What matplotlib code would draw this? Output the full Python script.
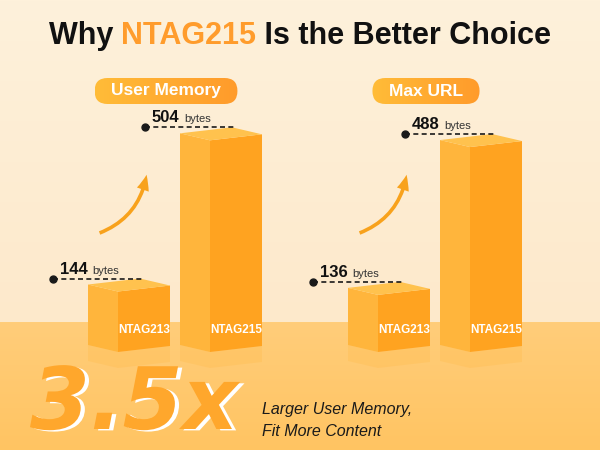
import numpy as np
import matplotlib
matplotlib.use("Agg")
import matplotlib.pyplot as plt
import matplotlib.patheffects as pe
from matplotlib.patches import Polygon, FancyBboxPatch, FancyArrowPatch
from matplotlib.colors import to_rgb

plt.rcParams['font.family'] = ['Liberation Sans', 'DejaVu Sans']

# data
metrics = ["User Memory", "Max URL"]
chips = ["NTAG213", "NTAG215"]
user_memory = [144, 504]
max_url = [136, 488]
unit = "bytes"
title_parts = ["Why ", "NTAG215", " Is the Better Choice"]
ratio_text = "3.5x"
caption = ["Larger User Memory,", "Fit More Content"]

W, H = 600, 450
HORIZON = 322       # floor line (px from top)
GROUND = 352        # bottom of the box front edge (px from top)
PX_PER_BYTE = 0.42
YMAX = 620
STEP = 92           # px between the two boxes of a group
GROUP_X = [129, 389]  # px centre of the first box in each group

ORANGE = '#FF9C2C'
LEFT_FACE = '#FFB53C'
RIGHT_FACE = '#FFA320'
TOP_FACE = '#FFC24E'

fig = plt.figure(figsize=(6, 4.5), dpi=100)
ax0 = fig.add_axes([0, 0, 1, 1])
ax0.set_xlim(0, W)
ax0.set_ylim(H, 0)
ax0.axis('off')

# background: cream wall + orange floor
yy = np.arange(H)
wall_top, wall_bot = np.array(to_rgb('#FEF1DB')), np.array(to_rgb('#FDE9CB'))
floor_top, floor_bot = np.array(to_rgb('#FFCD7A')), np.array(to_rgb('#FFC462'))
t1 = np.clip(yy / HORIZON, 0, 1)[:, None]
t2 = np.clip((yy - HORIZON) / (H - HORIZON), 0, 1)[:, None]
col = np.where((yy < HORIZON)[:, None], wall_top + (wall_bot - wall_top) * t1,
               floor_top + (floor_bot - floor_top) * t2)
img = np.repeat(col[:, None, :], W, axis=1)
ax0.imshow(img, extent=(0, W, H, 0), aspect='auto', zorder=0)

renderer = fig.canvas.get_renderer()

# title in three colours
pieces = []
for txt, c in zip(title_parts, ['#111111', ORANGE, '#111111']):
    pieces.append(ax0.text(0, 44, txt, fontsize=22, fontweight='bold', color=c,
                           va='baseline', ha='left', zorder=5))
widths = [p.get_window_extent(renderer).width for p in pieces]
x = W / 2 - sum(widths) / 2
for p, w in zip(pieces, widths):
    p.set_x(x)
    x += w


def draw_box(ax, xc, v, label):
    u = 1 / PX_PER_BYTE
    xl = xc - 41 / STEP
    xe = xc - 11 / STEP
    xr = xc + 41 / STEP
    xb = xl + xr - xe
    # faint floor reflection
    ax.add_patch(Polygon([(xl, 7 * u), (xe, 0), (xr, 6 * u), (xr, -10 * u), (xe, -16 * u), (xl, -9 * u)],
                         closed=True, color='#FFB02E', alpha=0.18, lw=0, zorder=2, clip_on=False))
    ax.add_patch(Polygon([(xl, 7 * u), (xe, 0), (xe, v), (xl, v + 7 * u)],
                         closed=True, color=LEFT_FACE, lw=0, zorder=3, clip_on=False))
    ax.add_patch(Polygon([(xe, 0), (xr, 6 * u), (xr, v + 6 * u), (xe, v)],
                         closed=True, color=RIGHT_FACE, lw=0, zorder=3, clip_on=False))
    ax.add_patch(Polygon([(xe, v), (xl, v + 7 * u), (xb, v + 13 * u), (xr, v + 6 * u)],
                         closed=True, color=TOP_FACE, lw=0, zorder=3, clip_on=False))
    # name on the box
    ax.annotate(label, ((xe + xr) / 2, 3 * u), xytext=(0, 19), textcoords='offset pixels',
                ha='center', va='center', color='white', fontsize=8.5, fontweight='bold',
                zorder=4, annotation_clip=False)
    # value marker with dashed leader
    yl = v + 13 * u
    xd = xl - 35 / STEP
    ax.plot([xd, xb + 3 / STEP], [yl, yl], ls=(0, (3, 2)), color='#1A1A1A', lw=1.2,
            zorder=4, clip_on=False)
    ax.plot([xd], [yl], 'o', color='#1A1A1A', ms=5, zorder=4, clip_on=False)
    num = ax.annotate(str(v), (xd, yl), xytext=(7, 5), textcoords='offset pixels',
                      ha='left', va='baseline', fontsize=12, fontweight='bold',
                      color='#111111', zorder=4, annotation_clip=False)
    nw = num.get_window_extent(renderer).width
    ax.annotate(unit, (xd, yl), xytext=(7 + nw + 5, 5), textcoords='offset pixels',
                ha='left', va='baseline', fontsize=8, color='#333333', zorder=4,
                annotation_clip=False)


for g, (name, vals) in enumerate(zip(metrics, [user_memory, max_url])):
    gx = GROUP_X[g]
    rect = [(gx - 0.5 * STEP) / W, (H - GROUND) / H, 2 * STEP / W, YMAX * PX_PER_BYTE / H]
    axb = fig.add_axes(rect)
    axb.set_xlim(-0.5, 1.5)
    axb.set_ylim(0, YMAX)
    axb.axis('off')
    for i, (chip, v) in enumerate(zip(chips, vals)):
        draw_box(axb, i, v, chip)

    # growth arrow
    ax0.add_patch(FancyArrowPatch((gx - 32, 234), (gx + 18, 172),
                                  connectionstyle='arc3,rad=0.3',
                                  arrowstyle='simple,head_width=9,head_length=11,tail_width=2.6',
                                  color='#F8A21C', lw=0, zorder=3))

    # pill header
    ptxt = ax0.text(gx + 37, 91, name, fontsize=12.5, fontweight='bold', color='white',
                    ha='center', va='center', zorder=6)
    pw = ptxt.get_window_extent(renderer).width + 33
    px0, py0, ph = gx + 37 - pw / 2, 78, 26
    pill = FancyBboxPatch((px0, py0), pw, ph, boxstyle='round,pad=0,rounding_size=13',
                          lw=0, facecolor='none', zorder=5)
    ax0.add_patch(pill)
    grad = np.linspace(0, 1, 64)[None, :, None]
    c1, c2 = np.array(to_rgb('#FFBC38')), np.array(to_rgb('#FF9B2B'))
    pimg = np.repeat(c1 + (c2 - c1) * grad, 2, axis=0)
    im = ax0.imshow(pimg, extent=(px0, px0 + pw, py0 + ph, py0), aspect='auto', zorder=5)
    im.set_clip_path(pill)

# big ratio with white offset shadow
ax0.text(30, 429, ratio_text, fontsize=62, fontweight='bold', style='italic',
         family='DejaVu Sans', color='#FFA72C', ha='left', va='baseline', zorder=7,
         path_effects=[pe.SimplePatchShadow(offset=(3, -1), shadow_rgbFace='white', alpha=1),
                       pe.Normal()])

ax0.text(262, 414, caption[0], fontsize=11.5, style='italic', color='#1A1A1A',
         ha='left', va='baseline', zorder=6)
ax0.text(262, 436, caption[1], fontsize=11.5, style='italic', color='#1A1A1A',
         ha='left', va='baseline', zorder=6)

ax0.set_xlim(0, W)
ax0.set_ylim(H, 0)
fig.savefig('out.png', dpi=100)
